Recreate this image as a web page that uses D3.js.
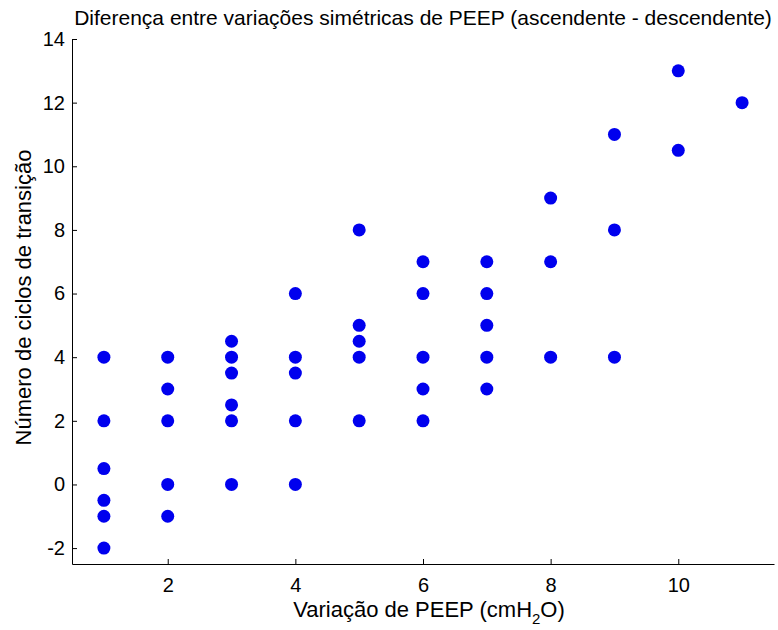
<!DOCTYPE html>
<html><head><meta charset="utf-8">
<script src="https://cdn.jsdelivr.net/npm/d3@7"></script>
<style>body{margin:0;background:#fff}svg{display:block}text{font-family:"Liberation Sans",Arial,sans-serif;fill:#000}</style>
</head><body>
<script>
const xValues = [1,1,1,1,1,1, 2,2,2,2,2, 3,3,3,3,3,3, 4,4,4,4,4, 5,5,5,5,5, 6,6,6,6,6, 7,7,7,7,7, 8,8,8, 9,9,9, 10,10, 11];
const yValues = [4,2,0.5,-0.5,-1,-2, 4,3,2,0,-1, 4.5,4,3.5,2.5,2,0, 6,4,3.5,2,0, 8,5,4.5,4,2, 7,6,4,3,2, 7,6,5,4,3, 9,7,4, 11,8,4, 13,10.5, 12];
const xTicks = [2,4,6,8,10];
const yTicks = [-2,0,2,4,6,8,10,12,14];
const title = "Diferença entre variações simétricas de PEEP (ascendente - descendente)";
const xLabel = "Variação de PEEP (cmH";
const yLabel = "Número de ciclos de transição";

const W = 778, H = 630;
const m = {left:72, right:4, top:39, bottom:66};
const svg = d3.select("body").append("svg").attr("width",W).attr("height",H);
const x = d3.scaleLinear().domain([0.5,11.5]).range([m.left, W-m.right]);
const y = d3.scaleLinear().domain([-2.5,14]).range([H-m.bottom, m.top]);

const fsTick = 20, fsLabel = 22, fsTitle = 21;
const gx = svg.append("g").attr("transform",`translate(0,${H-m.bottom})`)
  .call(d3.axisBottom(x).tickValues(xTicks).tickFormat(d3.format("d")).tickSizeInner(-5).tickSizeOuter(0).tickPadding(14));
const gy = svg.append("g").attr("transform",`translate(${m.left},0)`)
  .call(d3.axisLeft(y).tickValues(yTicks).tickFormat(d=>String(d)).tickSizeInner(-5).tickSizeOuter(0).tickPadding(7));
[gx,gy].forEach(g=>{
  g.selectAll("path").attr("stroke","#000").attr("stroke-width",1);
  g.selectAll("line").attr("stroke","#000");
  g.selectAll("text").attr("font-size",fsTick).attr("font-family","Liberation Sans, Arial, sans-serif").attr("fill","#000");
});

svg.append("g").selectAll("circle").data(xValues.map((v,i)=>[v,yValues[i]])).join("circle")
  .attr("cx",d=>x(d[0])).attr("cy",d=>y(d[1])).attr("r",6.5).attr("fill","#0000ee");

svg.append("text").attr("x",(m.left+W-m.right)/2).attr("y",25).attr("text-anchor","middle")
  .attr("font-size",fsTitle).text(title);

const xl = svg.append("text").attr("x",(m.left+W-m.right)/2+6).attr("y",617).attr("text-anchor","middle").attr("font-size",fsLabel);
xl.append("tspan").text(xLabel);
xl.append("tspan").attr("font-size",15).attr("dy",7).text("2");
xl.append("tspan").attr("dy",-7).text("O)");

svg.append("text").attr("transform",`translate(31,${(m.top+H-m.bottom)/2-4}) rotate(-90)`)
  .attr("text-anchor","middle").attr("font-size",fsLabel).text(yLabel);
</script>
</body></html>
